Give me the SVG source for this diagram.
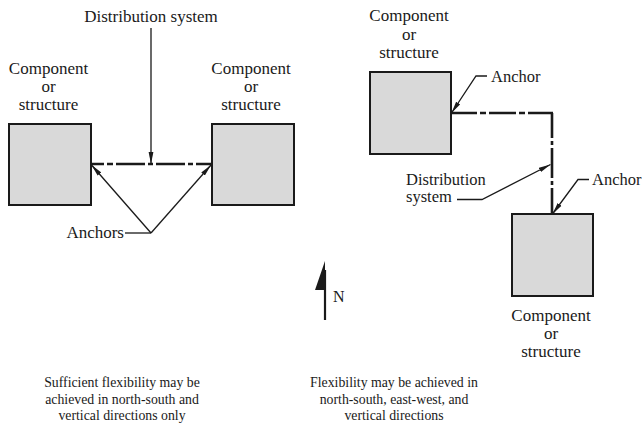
<svg xmlns="http://www.w3.org/2000/svg" width="642" height="434" viewBox="0 0 642 434">
<style>
text{font-family:"Liberation Serif","Times New Roman",serif;fill:#1a1a1a}
.lbl{font-size:17px;text-anchor:middle}
.sm{font-size:16.5px;text-anchor:start}
.cap{font-size:13.8px;text-anchor:middle}
.box{fill:#d9d9d9;stroke:#1a1a1a;stroke-width:2}
.pipe{fill:none;stroke:#1a1a1a;stroke-width:2.6}
.lead{fill:none;stroke:#1a1a1a;stroke-width:1.3}
</style>
<defs>
<marker id="ah" viewBox="0 0 12 6" refX="12" refY="3" markerWidth="12" markerHeight="6" markerUnits="userSpaceOnUse" orient="auto">
<path d="M0,0.6 L12,3 L0,5.4 Z" fill="#1a1a1a"/>
</marker>
</defs>
<rect width="642" height="434" fill="#fff"/>

<g id="left-component-1">
<rect class="box" x="9" y="124" width="82" height="81"/>
<text class="lbl" x="48.5" y="74">Component</text>
<text class="lbl" x="48.5" y="92">or</text>
<text class="lbl" x="48.5" y="110">structure</text>
</g>
<g id="left-component-2">
<rect class="box" x="212" y="124" width="82" height="81"/>
<text class="lbl" x="251" y="74">Component</text>
<text class="lbl" x="251" y="92">or</text>
<text class="lbl" x="251" y="110">structure</text>
</g>
<g id="right-component-1">
<rect class="box" x="370" y="72" width="81" height="82"/>
<text class="lbl" x="409" y="21">Component</text>
<text class="lbl" x="409" y="39.5">or</text>
<text class="lbl" x="409" y="58">structure</text>
</g>
<g id="right-component-2">
<rect class="box" x="512" y="214" width="81" height="82"/>
<text class="lbl" x="551" y="321">Component</text>
<text class="lbl" x="551" y="339">or</text>
<text class="lbl" x="551" y="357">structure</text>
</g>

<g id="labels">
<text class="lbl" x="151" y="22">Distribution system</text>
<text class="lbl" x="124" y="238" style="text-anchor:end">Anchors</text>
<text class="sm" x="491" y="81.5">Anchor</text>
<text class="sm" x="592" y="184.5">Anchor</text>
<text class="sm" x="406" y="185">Distribution</text>
<text class="sm" x="406" y="202">system</text>
<text x="333" y="301.5" style="font-size:16px">N</text>
</g>

<g id="connectors">
<line class="pipe" x1="90" y1="164" x2="212" y2="164" stroke-dasharray="14 3 6 3 29 3 5 3 29 3 5 3 17"/>
<line class="pipe" x1="451" y1="113" x2="553" y2="113" stroke-dasharray="26 3 6 3 27 3 6 3 25"/>
<line class="pipe" x1="552" y1="113" x2="552" y2="214" stroke-dasharray="25 3 4 3 30 3 4 3 26"/>
<line class="lead" x1="151" y1="28" x2="151" y2="164" marker-end="url(#ah)"/>
<polyline class="lead" points="151,233 91.5,165" marker-end="url(#ah)"/>
<polyline class="lead" points="151,233 211,165" marker-end="url(#ah)"/>
<line class="lead" x1="125" y1="233" x2="151" y2="233"/>
<polyline class="lead" points="487,76 476,76 451.5,113" marker-end="url(#ah)"/>
<polyline class="lead" points="589,179.5 578,179.5 552.5,214" marker-end="url(#ah)"/>
<polyline class="lead" points="457,199.5 482,199.5 550.5,164.5" marker-end="url(#ah)"/>
<line x1="325" y1="270" x2="325" y2="320" stroke="#1a1a1a" stroke-width="2.2"/>
<path d="M325,261 L315,290 L325,290 Z" fill="#1a1a1a"/>
</g>

<g id="captions">
<text class="cap" x="122" y="387">Sufficient flexibility may be</text>
<text class="cap" x="122" y="403.5">achieved in north-south and</text>
<text class="cap" x="122" y="420">vertical directions only</text>
<text class="cap" x="394" y="387">Flexibility may be achieved in</text>
<text class="cap" x="394" y="403.5">north-south, east-west, and</text>
<text class="cap" x="394" y="420">vertical directions</text>
</g>
</svg>
